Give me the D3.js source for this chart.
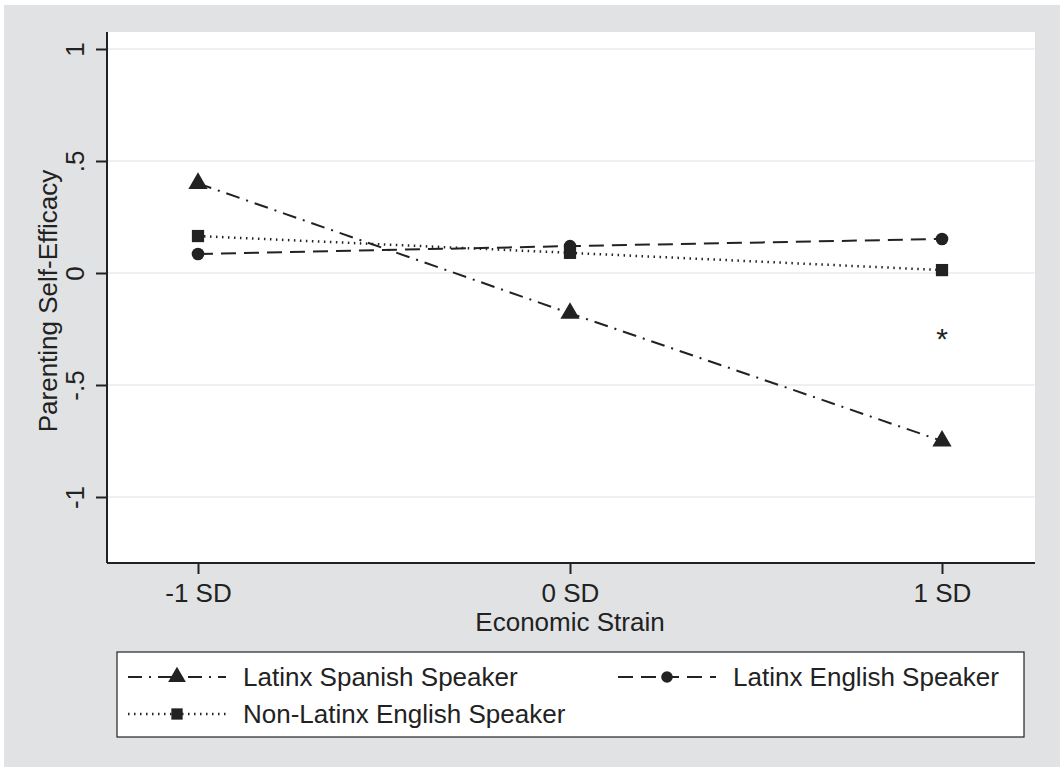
<!DOCTYPE html>
<html>
<head>
<meta charset="utf-8">
<script src="https://cdn.jsdelivr.net/npm/d3@7"></script>
<style>
  body { margin: 0; background: #fff; }
  svg { display: block; font-family: "Liberation Sans", Arial, sans-serif; }
</style>
</head>
<body>
<svg id="chart" width="1060" height="771"></svg>
<script>
// DATA
const categories = ["-1 SD", "0 SD", "1 SD"];
const yTicks = [-1, -0.5, 0, 0.5, 1];
const yTickLabels = ["-1", "-.5", "0", ".5", "1"];
const spanishValues = [0.40, -0.18, -0.75];
const englishLatinxValues = [0.085, 0.12, 0.152];
const nonLatinxValues = [0.165, 0.09, 0.013];
const seriesNames = ["Latinx Spanish Speaker", "Latinx English Speaker", "Non-Latinx English Speaker"];
const asterisk = {category: "1 SD", value: -0.27};

// LAYOUT
const plot = {left: 107, right: 1035, top: 32, bottom: 563};
const ink = "#222";
const fontSize = 26;

const svg = d3.select("#chart");

// Outer gray panel
svg.append("rect")
    .attr("x", 4).attr("y", 5)
    .attr("width", 1056).attr("height", 762)
    .attr("fill", "#e1e2e4");

// White plot region
svg.append("rect")
    .attr("x", plot.left).attr("y", plot.top)
    .attr("width", plot.right - plot.left).attr("height", plot.bottom - plot.top)
    .attr("fill", "#fff");

// Scales
const x = d3.scalePoint()
    .domain(categories)
    .range([198, 942]);

const y = d3.scaleLinear()
    .domain([-1, 1])
    .range([497, 49]);

// Gridlines
svg.append("g")
    .selectAll("line")
    .data(yTicks)
    .enter().append("line")
    .attr("x1", plot.left).attr("x2", plot.right)
    .attr("y1", d => y(d)).attr("y2", d => y(d))
    .attr("stroke", "#eeeff0")
    .attr("stroke-width", 2);

// Y axis
const yAxis = svg.append("g")
    .attr("transform", `translate(${plot.left},0)`)
    .call(d3.axisLeft(y).tickValues(yTicks).tickSize(11)
        .tickFormat((d, i) => yTickLabels[i]));
yAxis.select(".domain").attr("d", `M0,${plot.top}V${plot.bottom}`)
    .attr("stroke", ink).attr("stroke-width", 2);
yAxis.selectAll(".tick line").attr("stroke", ink).attr("stroke-width", 2);
yAxis.selectAll(".tick text")
    .attr("font-size", fontSize)
    .attr("fill", ink)
    .attr("font-family", "Liberation Sans, Arial, sans-serif")
    .attr("text-anchor", "middle")
    .attr("dy", null)
    .attr("x", null)
    .attr("transform", "translate(-32,0) rotate(-90)")
    .attr("dominant-baseline", "central");

// X axis
const xAxis = svg.append("g")
    .attr("transform", `translate(0,${plot.bottom})`)
    .call(d3.axisBottom(x).tickSize(11).tickPadding(8));
xAxis.select(".domain").attr("d", `M${plot.left},0H${plot.right}`)
    .attr("stroke", ink).attr("stroke-width", 2);
xAxis.selectAll(".tick line").attr("stroke", ink).attr("stroke-width", 2);
xAxis.selectAll(".tick text")
    .attr("font-size", fontSize)
    .attr("fill", ink)
    .attr("font-family", "Liberation Sans, Arial, sans-serif")
    .attr("dy", null)
    .attr("y", 30)
    .attr("dominant-baseline", "central");

// Axis titles
svg.append("text")
    .attr("x", 570).attr("y", 622)
    .attr("text-anchor", "middle")
    .attr("dominant-baseline", "central")
    .attr("font-size", fontSize)
    .attr("fill", ink)
    .text("Economic Strain");

svg.append("text")
    .attr("transform", "translate(48,301) rotate(-90)")
    .attr("text-anchor", "middle")
    .attr("dominant-baseline", "central")
    .attr("font-size", fontSize)
    .attr("fill", ink)
    .text("Parenting Self-Efficacy");

// Series
const series = [
    {name: seriesNames[0], values: spanishValues, dash: "14,7,2,7", marker: d3.symbolTriangle, size: 160},
    {name: seriesNames[1], values: englishLatinxValues, dash: "15,8", marker: d3.symbolCircle, size: 125},
    {name: seriesNames[2], values: nonLatinxValues, dash: "1.5,4.5", marker: d3.symbolSquare, size: 150}
];

const line = d3.line()
    .x((d, i) => x(categories[i]))
    .y(d => y(d));

series.forEach(s => {
    svg.append("path")
        .datum(s.values)
        .attr("d", line)
        .attr("fill", "none")
        .attr("stroke", ink)
        .attr("stroke-width", s.marker === d3.symbolSquare ? 2.5 : 2)
        .attr("stroke-dasharray", s.dash);
});

series.forEach(s => {
    svg.append("g")
        .selectAll("path")
        .data(s.values)
        .enter().append("path")
        .attr("d", d3.symbol().type(s.marker).size(s.size))
        .attr("transform", (d, i) => `translate(${x(categories[i])},${y(d)})`)
        .attr("fill", ink);
});

// Significance marker
svg.append("text")
    .attr("x", x(asterisk.category))
    .attr("y", y(asterisk.value) + 16)
    .attr("text-anchor", "middle")
    .attr("font-size", 30)
    .attr("fill", ink)
    .text("*");

// LEGEND
svg.append("rect")
    .attr("x", 117).attr("y", 652)
    .attr("width", 907).attr("height", 85)
    .attr("fill", "#fff")
    .attr("stroke", ink)
    .attr("stroke-width", 1.2);

const legendItems = [
    {s: series[0], x0: 128, y0: 677},
    {s: series[1], x0: 618, y0: 677},
    {s: series[2], x0: 128, y0: 714}
];

legendItems.forEach(item => {
    const g = svg.append("g");
    g.append("line")
        .attr("x1", item.x0).attr("x2", item.x0 + 98)
        .attr("y1", item.y0).attr("y2", item.y0)
        .attr("stroke", ink)
        .attr("stroke-width", item.s.marker === d3.symbolSquare ? 2.5 : 2)
        .attr("stroke-dasharray", item.s.dash);
    g.append("path")
        .attr("d", d3.symbol().type(item.s.marker).size(item.s.size * 0.85))
        .attr("transform", `translate(${item.x0 + 49},${item.y0})`)
        .attr("fill", ink);
    g.append("text")
        .attr("x", item.x0 + 115)
        .attr("y", item.y0)
        .attr("dominant-baseline", "central")
        .attr("font-size", fontSize)
        .attr("fill", ink)
        .text(item.s.name);
});
</script>
</body>
</html>
